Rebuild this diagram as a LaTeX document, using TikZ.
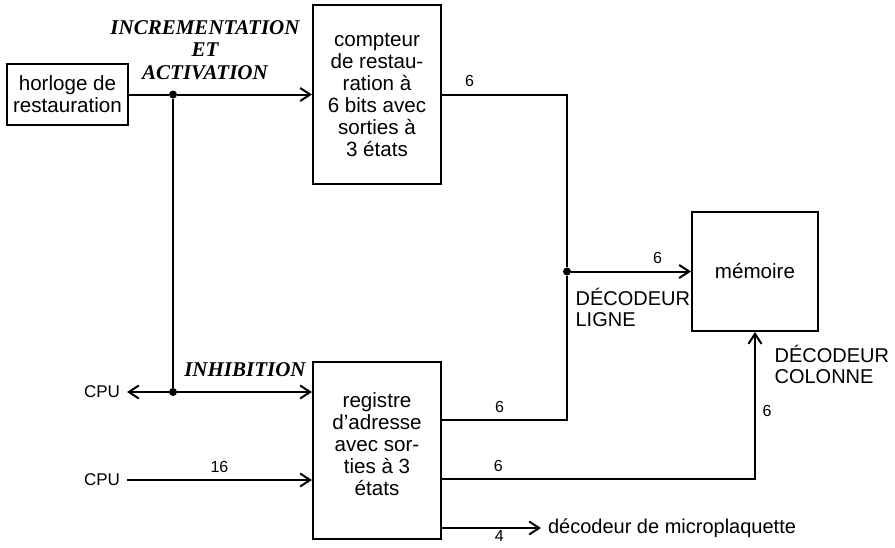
\documentclass[tikz,border=0pt]{standalone}
\usepackage{fontspec}
\setmainfont{Liberation Serif}
\setsansfont{Liberation Sans}
\usetikzlibrary{arrows.meta,calc}
\tikzset{blk/.style={draw,line width=1pt,minimum width=64pt,align=center,inner sep=2pt,
    font=\sffamily\fontsize{10.3}{11}\selectfont},
  wire/.style={line width=1pt},
  sig/.style={wire,-{Straight Barb[length=5pt,width=6.5pt,line width=1pt]}},
  dot/.style={circle,fill,inner sep=0pt,minimum size=4pt},
  num/.style={font=\sffamily\fontsize{8}{9}\selectfont},
  cpu/.style={font=\sffamily\fontsize{8.5}{9}\selectfont},
  lbl/.style={font=\sffamily\fontsize{10}{10.5}\selectfont,align=left},
  cmd/.style={font=\rmfamily\bfseries\itshape\fontsize{10.5}{11.25}\selectfont,align=center}}

\begin{document}
\begin{tikzpicture}[x=0.5pt,y=-0.5pt]
\useasboundingbox (0,0) rectangle (895,547);
% blocs
\node[blk,minimum width=60.5pt,minimum height=30.5pt] (clk) at (67.5,94.5) {horloge de\\restauration};
\node[blk,minimum height=89.5pt] (cpt) at (377,94.5) {compteur\\de restau-\\ration à\\6 bits avec\\sorties à\\3 états};
\node[blk,minimum height=88.5pt,text depth=6pt] (reg) at (377,450.5) {registre\\d'adresse\\avec sor-\\ties à 3\\états};
\node[blk,minimum width=63pt,minimum height=59.5pt] (mem) at (755,271.5) {mémoire};
% points de jonction
\node[dot] (ja) at (173,94.5) {};
\node[dot] (jb) at (173,392) {};
\node[dot] (jc) at (567,271.5) {};
% commandes
\node[cmd] (inc) at (205,50) {INCREMENTATION\\ET\\ACTIVATION};
\node[cmd] (inh) at (245,370) {INHIBITION};
\draw[wire] (clk) -- (ja);
\draw[sig] (ja) -- (cpt);
\draw[wire] (ja) -- (jb);
\draw[sig] (jb) -- (jb -| reg.west);
\node[cpu,anchor=east] (cpua) at (127,392) {CPU};
\draw[sig] (jb) -- (cpua);
\node[cpu,anchor=east] (cpub) at (127,480) {CPU};
\draw[sig] (cpub) -- (cpub -| reg.west) node[num,midway,above] {16};
% bus d'adresse
\draw[wire] (cpt) -| (jc) node[num,pos=0.11,above] {6};
\draw[wire] ($(reg.east)+(0,-30.5)$) -| (jc) node[num,pos=0.23,above] {6};
\draw[sig] (jc) -- (jc -| mem.west) node[num,pos=0.72,above] {6};
\draw[sig] ($(reg.east)+(0,28.5)$) -| (mem.south) node[num,pos=0.09,above] {6} node[num,pos=0.73,right] {6};
\node[lbl,anchor=west] (dec) at (541,528) {décodeur de microplaquette};
\draw[sig] ($(reg.east)+(0,77.5)$) -- (dec.west) node[num,pos=0.58,below,inner sep=0.8pt] {4};
\node[lbl,anchor=west] (lig) at (568.5,307) {DÉCODEUR\\LIGNE};
\node[lbl,anchor=west] (col) at (767.5,364) {DÉCODEUR\\COLONNE};
\end{tikzpicture}
\end{document}
